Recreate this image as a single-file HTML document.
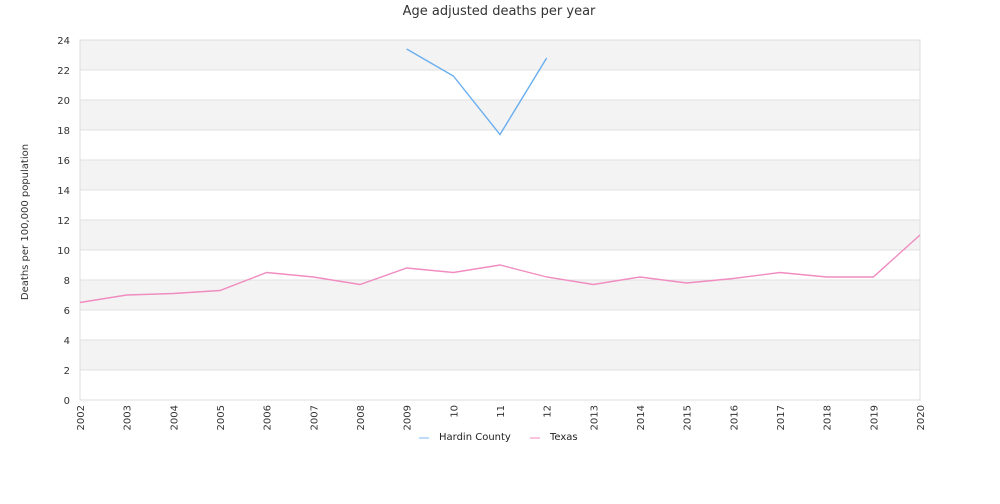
<!DOCTYPE html>
<html><head><meta charset="utf-8"><style>
body{margin:0;background:#fff;font-family:"DejaVu Sans","Liberation Sans",sans-serif}
</style></head><body>
<svg id="chart" width="1000" height="500" xmlns="http://www.w3.org/2000/svg" font-family="DejaVu Sans, Liberation Sans, sans-serif"></svg>
<script>
const years=["2002","2003","2004","2005","2006","2007","2008","2009","10","11","12","2013","2014","2015","2016","2017","2018","2019","2020"];
const texas=[6.5,7.0,7.1,7.3,8.5,8.2,7.7,8.8,8.5,9.0,8.2,7.7,8.2,7.8,8.1,8.5,8.2,8.2,11.0];
const hardin=[null,null,null,null,null,null,null,23.4,21.6,17.7,22.8,null,null,null,null,null,null,null,null];
const yTicks=[0,2,4,6,8,10,12,14,16,18,20,22,24];
const svg=document.getElementById('chart');
const NS='http://www.w3.org/2000/svg';
const L=80,R=920,T=40,B=400,ymax=24;
const x=i=>L+i*(R-L)/(years.length-1);
const y=v=>B-v/ymax*(B-T);
function el(t,a,p){const e=document.createElementNS(NS,t);for(const k in a)e.setAttribute(k,a[k]);(p||svg).appendChild(e);return e;}
for(let v=0;v<ymax;v+=2){
  if((v/2)%2===1){const r=el('rect',{x:L,y:y(v+2),width:R-L,height:y(v)-y(v+2),fill:'#f3f3f3'});
  
  }
}
yTicks.forEach(v=>{
  const g=el('line',{x1:L,x2:R,y1:y(v),y2:y(v),stroke:'#e0e0e0','stroke-width':1});
  
  
  const t=el('text',{x:70,y:y(v)+4,'text-anchor':'end','font-size':10,fill:'#333'});
  t.textContent=v;
  
  
});
const fr=el('rect',{x:L,y:T,width:R-L,height:B-T,fill:'none',stroke:'#dcdcdc'});


years.forEach((lab,i)=>{
  const t=el('text',{x:0,y:0,'text-anchor':'end','font-size':10,fill:'#333',transform:`translate(${x(i)+4},405) rotate(-90)`});
  t.textContent=lab;
  
  
});
function line(arr,color,name){
  let d='';let pen=false;
  arr.forEach((v,i)=>{if(v==null){pen=false;return;}d+=(pen?'L':'M')+x(i)+','+y(v);pen=true;});
  const p=el('path',{d:d,fill:'none',stroke:color,'stroke-width':1.4});
  
  
}
line(hardin,'#6aaef0','hardin-county-line');
line(texas,'#f08cc0','texas-line');
const title=el('text',{x:499,y:15,'text-anchor':'middle','font-size':13,fill:'#333'});
title.textContent='Age adjusted deaths per year';


const yt=el('text',{x:0,y:0,'text-anchor':'middle','font-size':10,fill:'#333',transform:'translate(28,222) rotate(-90)'});
yt.textContent='Deaths per 100,000 population';


const legend=[['Hardin County','#a8cff5',419],['Texas','#f5b0d5',530]];
legend.forEach(([n,c,lx])=>{
  const g=el('g',{});
  
  
  el('line',{x1:lx,x2:lx+10,y1:438,y2:438,stroke:c,'stroke-width':1.5},g);
  const t=el('text',{x:lx+20,y:440,'font-size':10,fill:'#222'},g);
  t.textContent=n;
});
</script>
</body></html>
